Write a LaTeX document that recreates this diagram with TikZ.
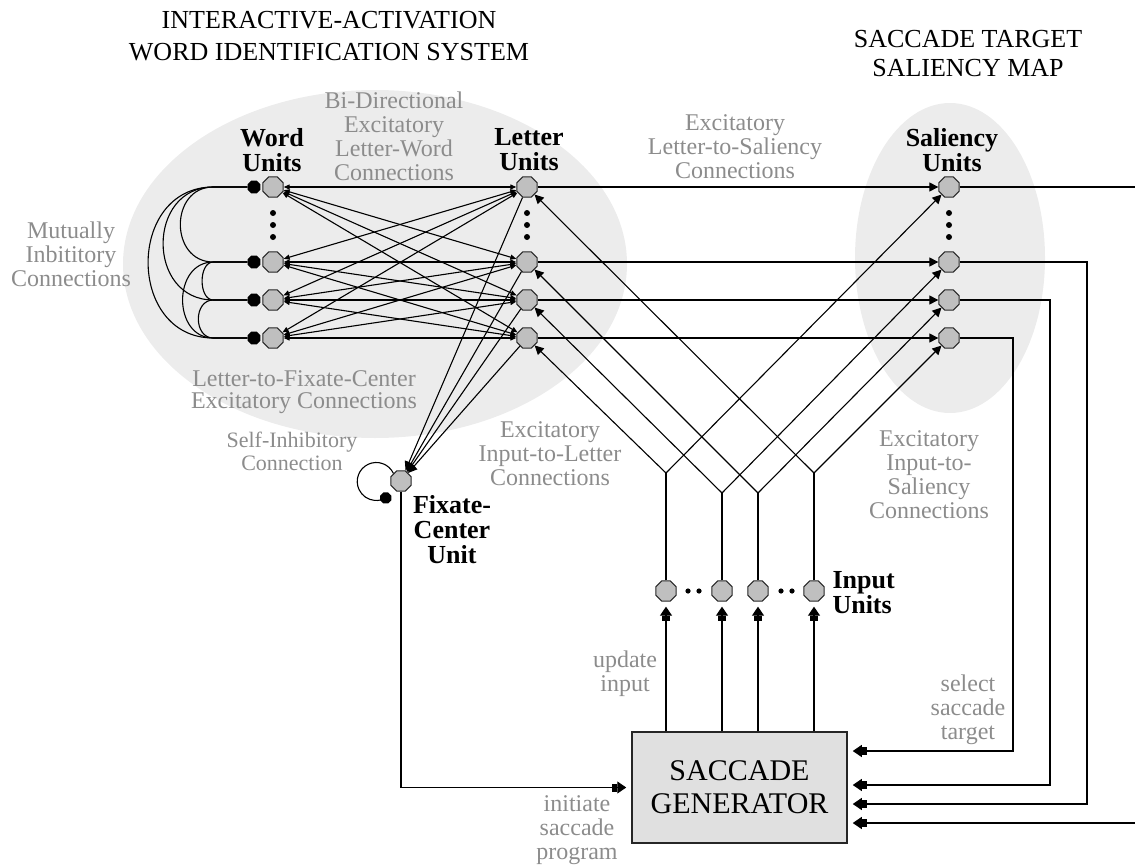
\documentclass[tikz,border=0pt]{standalone}
\usepackage{fontspec}
\setmainfont{Liberation Serif}
\usepackage{tikz}
\usetikzlibrary{arrows.meta,shapes.geometric}
\definecolor{lblgray}{gray}{0.55}
\definecolor{fieldgray}{gray}{0.925}
\definecolor{unitgray}{gray}{0.75}
\tikzset{
  unit/.style={regular polygon,regular polygon sides=8,minimum size=22pt,inner sep=0pt,draw=black!85,fill=unitgray,line width=1pt},
  inh/.style={regular polygon,regular polygon sides=8,minimum size=14pt,inner sep=0pt,fill=black},
  wire/.style={line width=1.1pt},
  exc/.style={wire,-{Triangle[length=9pt,width=9pt]}},
  bidir/.style={wire,{Triangle[length=6pt,width=5pt]}-{Triangle[length=6pt,width=5pt]}},
  feed/.style={wire,-{Rectangle[length=5pt,width=8pt]Triangle[length=9pt,width=12pt]},shorten >=5pt},
  lbl/.style={text=lblgray,align=center,font=\fontsize{24}{24}\selectfont},
  unitname/.style={align=center,font=\bfseries\fontsize{26}{25}\selectfont},
  ttl/.style={align=center,font=\fontsize{26}{32}\selectfont}
}

\begin{document}
\begin{tikzpicture}[x=1pt,y=-1pt]
\useasboundingbox (0,0) rectangle (1135,867);
\fill[fieldgray] (375,264) ellipse (252pt and 174pt);
\fill[fieldgray] (950,258) ellipse (95pt and 155pt);
\node[ttl] (ttlwis) at (329,36) {INTERACTIVE-ACTIVATION\\WORD IDENTIFICATION SYSTEM};
\node[ttl,font=\fontsize{26}{29}\selectfont] (ttlsal) at (968,54) {SACCADE TARGET\\SALIENCY MAP};
\foreach \n/\y in {1/187,2/262,3/300,4/338}{
  \node[unit] (W\n) at (273,\y) {}; \node[inh] (D\n) at (254,\y) {};
  \node[unit] (L\n) at (527,\y) {}; \node[unit] (S\n) at (949,\y) {};
}
\foreach \x in {273,527,949} \foreach \y in {213,225,237} \fill (\x,\y) circle (3pt);
\node[unit] (F) at (401,481) {};
\node[unit] (I1) at (666,591) {}; \node[unit] (I2) at (722,591) {};
\node[unit] (I3) at (758,591) {}; \node[unit] (I4) at (814,591) {};
\foreach \x in {688,699,781,792} \fill (\x,591) circle (2.6pt);
\coordinate (V1) at (666,473); \coordinate (V2) at (722,493);
\coordinate (V3) at (758,493); \coordinate (V4) at (814,473);
\node[draw=black!85,fill=black!12,line width=1.5pt,minimum width=215pt,minimum height=111pt,align=center,font=\fontsize{30}{33}\selectfont] (SG) at (739.5,787.5) {SACCADE\\GENERATOR};
\coordinate (C4) at (1013,751); \coordinate (C3) at (1050,785); \coordinate (C2) at (1087,804);
\coordinate (R1) at (1135,187); \coordinate (R2) at (1135,823);
\foreach \i in {1,...,4} \foreach \j in {1,...,4} \draw[bidir] (W\i) -- (L\j);
\foreach \a/\b/\k in {1/2/44,1/3/67,1/4/87,2/3/15,2/4/41,3/4/20}
  \draw[wire] (D\a.west) -- ++(-34,0) .. controls +(-\k,0) and +(-\k,0) .. ([xshift=-34pt]D\b.west) -- (D\b.west);
\foreach \j in {1,...,4} \draw[exc] (L\j) -- (S\j);
\foreach \j in {1,...,4} \draw[exc] (L\j) -- (F);
\draw[wire] (F.north west) arc[start angle=25,end angle=300,radius=19pt] node[inh,minimum size=12pt] (Fd) {};
\foreach \k in {1,...,4} \draw[wire] (I\k) -- (V\k);
\foreach \k/\j in {1/4,2/3,3/2,4/1} \draw[exc] (V\k) -- (L\j);
\foreach \k in {1,...,4} \draw[exc] (V\k) -- (S\k);
\foreach \k in {1,...,4} \draw[feed] (SG.north -| I\k) -- (I\k);
\draw[feed] (F) |- (SG.west);
\draw[wire] (S1) -- (R1);
\draw[feed] (S4) -| (C4) -- (C4 -| SG.east);
\draw[feed] (S3) -| (C3) -- (C3 -| SG.east);
\draw[feed] (S2) -| (C2) -- (C2 -| SG.east);
\draw[feed] (R2) -- (R2 -| SG.east);
\node[unitname] (wordlbl) at (272,150) {Word\\Units};
\node[unitname] (letterlbl) at (529,150) {Letter\\Units};
\node[unitname] (sallbl) at (952,150) {Saliency\\Units};
\node[unitname] (fixlbl) at (452,530) {Fixate-\\Center\\Unit};
\node[unitname,anchor=west,align=left] (inlbl) at (829,593) {Input\\Units};
\node[lbl] (mutlbl) at (71,254) {Mutually\\Inbititory\\Connections};
\node[lbl] (bidlbl) at (394,136) {Bi-Directional\\Excitatory\\Letter-Word\\Connections};
\node[lbl] (ltslbl) at (735,147) {Excitatory\\Letter-to-Saliency\\Connections};
\node[lbl,font=\fontsize{24}{22}\selectfont] (ltflbl) at (304,392) {Letter-to-Fixate-Center\\Excitatory Connections};
\node[lbl] (itllbl) at (550,454) {Excitatory\\Input-to-Letter\\Connections};
\node[lbl] (itslbl) at (929,475) {Excitatory\\Input-to-\\Saliency\\Connections};
\node[lbl,font=\fontsize{22}{23}\selectfont] (selflbl) at (292,451) {Self-Inhibitory\\Connection};
\node[lbl] (updlbl) at (625,674) {update\\input};
\node[lbl] (sellbl) at (968,710) {select\\saccade\\target};
\node[lbl] (initlbl) at (577,830) {initiate\\saccade\\program};
\end{tikzpicture}
\end{document}
